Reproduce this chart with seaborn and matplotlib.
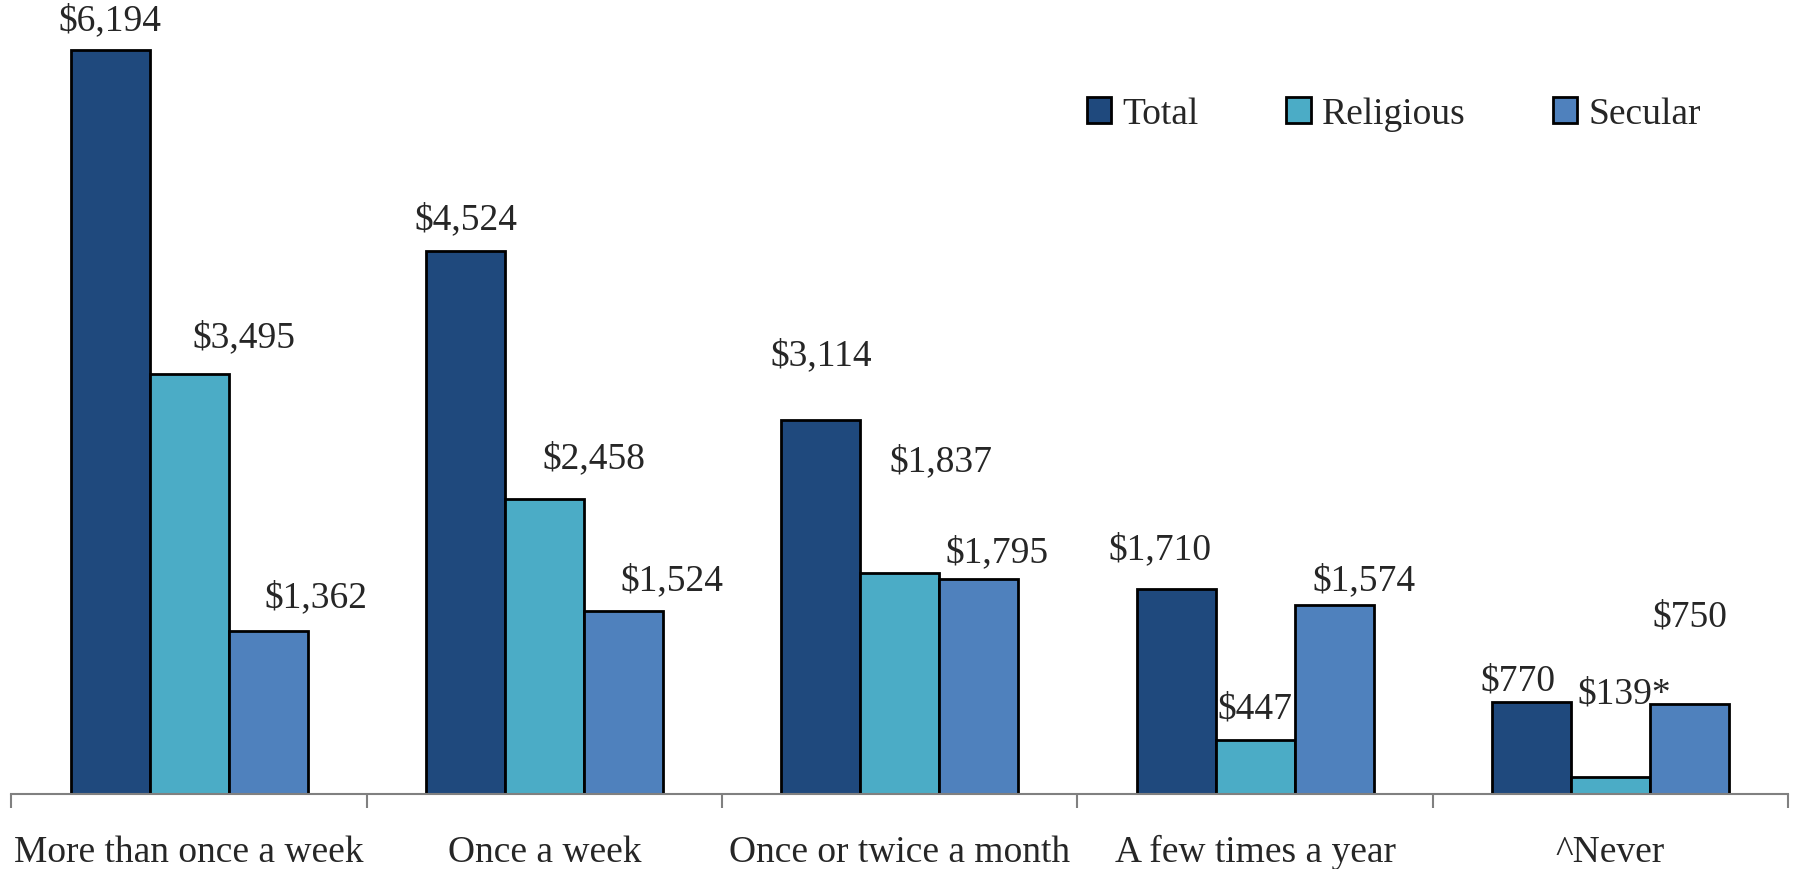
import matplotlib
matplotlib.use('Agg')
import matplotlib.pyplot as plt
import seaborn as sns
import pandas as pd

categories = ['More than once a week', 'Once a week', 'Once or twice a month',
              'A few times a year', '^Never']
series = ['Total', 'Religious', 'Secular']
total = [6194, 4524, 3114, 1710, 770]
religious = [3495, 2458, 1837, 447, 139]
secular = [1362, 1524, 1795, 1574, 750]
labels = {
    'Total': ['$6,194', '$4,524', '$3,114', '$1,710', '$770'],
    'Religious': ['$3,495', '$2,458', '$1,837', '$447', '$139*'],
    'Secular': ['$1,362', '$1,524', '$1,795', '$1,574', '$750'],
}

# hand-placed label offsets (pixels from bar top centre), like the original
offsets = {
    'Total': [(0, 31), (0, 32), (0, 65), (-16, 40), (-13, 21)],
    'Religious': [(55, 38), (49, 41), (41, 113), (0, 32), (14, 84)],
    'Secular': [(48, 34), (48, 31), (18, 27), (30, 25), (0, 88)],
}
colors = ['#1F497D', '#4BACC6', '#4F81BD']

df = pd.DataFrame({
    'freq': categories * 3,
    'type': [s for s in series for _ in categories],
    'amount': total + religious + secular,
})

sns.set_style('white')
plt.rcParams['font.family'] = ['Liberation Serif', 'DejaVu Serif']

fig = plt.figure(figsize=(17.94, 8.7), dpi=100)
ax = fig.add_axes([0.0064, 0.0862, 0.9903, 0.9138])

sns.barplot(data=df, x='freq', y='amount', hue='type', order=categories,
            hue_order=series, palette=colors, width=0.667, saturation=1,
            edgecolor='black', linewidth=2, ax=ax)

for name, cont in zip(series, ax.containers):
    for bar, lab, (dx, dy) in zip(cont, labels[name], offsets[name]):
        ax.annotate(lab, (bar.get_x() + bar.get_width() / 2, bar.get_height()),
                    xytext=(dx, dy), textcoords='offset pixels',
                    ha='center', va='center', fontsize=27)

ax.set_ylim(0, 6623)
ax.set_xlim(-0.5, len(categories) - 0.5)
ax.set_xlabel('')
ax.set_ylabel('')
ax.set_yticks([])
for s in ['top', 'right', 'left']:
    ax.spines[s].set_visible(False)
ax.spines['bottom'].set_color('#808080')
ax.spines['bottom'].set_linewidth(1.5)

ax.set_xticks([i - 0.5 for i in range(len(categories) + 1)], minor=True)
ax.tick_params(axis='x', which='minor', length=10, width=1.5, color='#808080',
               direction='out', bottom=True)
ax.tick_params(axis='x', which='major', length=0, pad=29, labelsize=27)

ax.legend(loc='upper right', bbox_to_anchor=(0.9595, 0.896), ncol=3,
          frameon=False, fontsize=27, handlelength=0.65, handleheight=0.65,
          handletextpad=0.3, columnspacing=2.33, borderaxespad=0)

fig.savefig('out.png', dpi=100)
